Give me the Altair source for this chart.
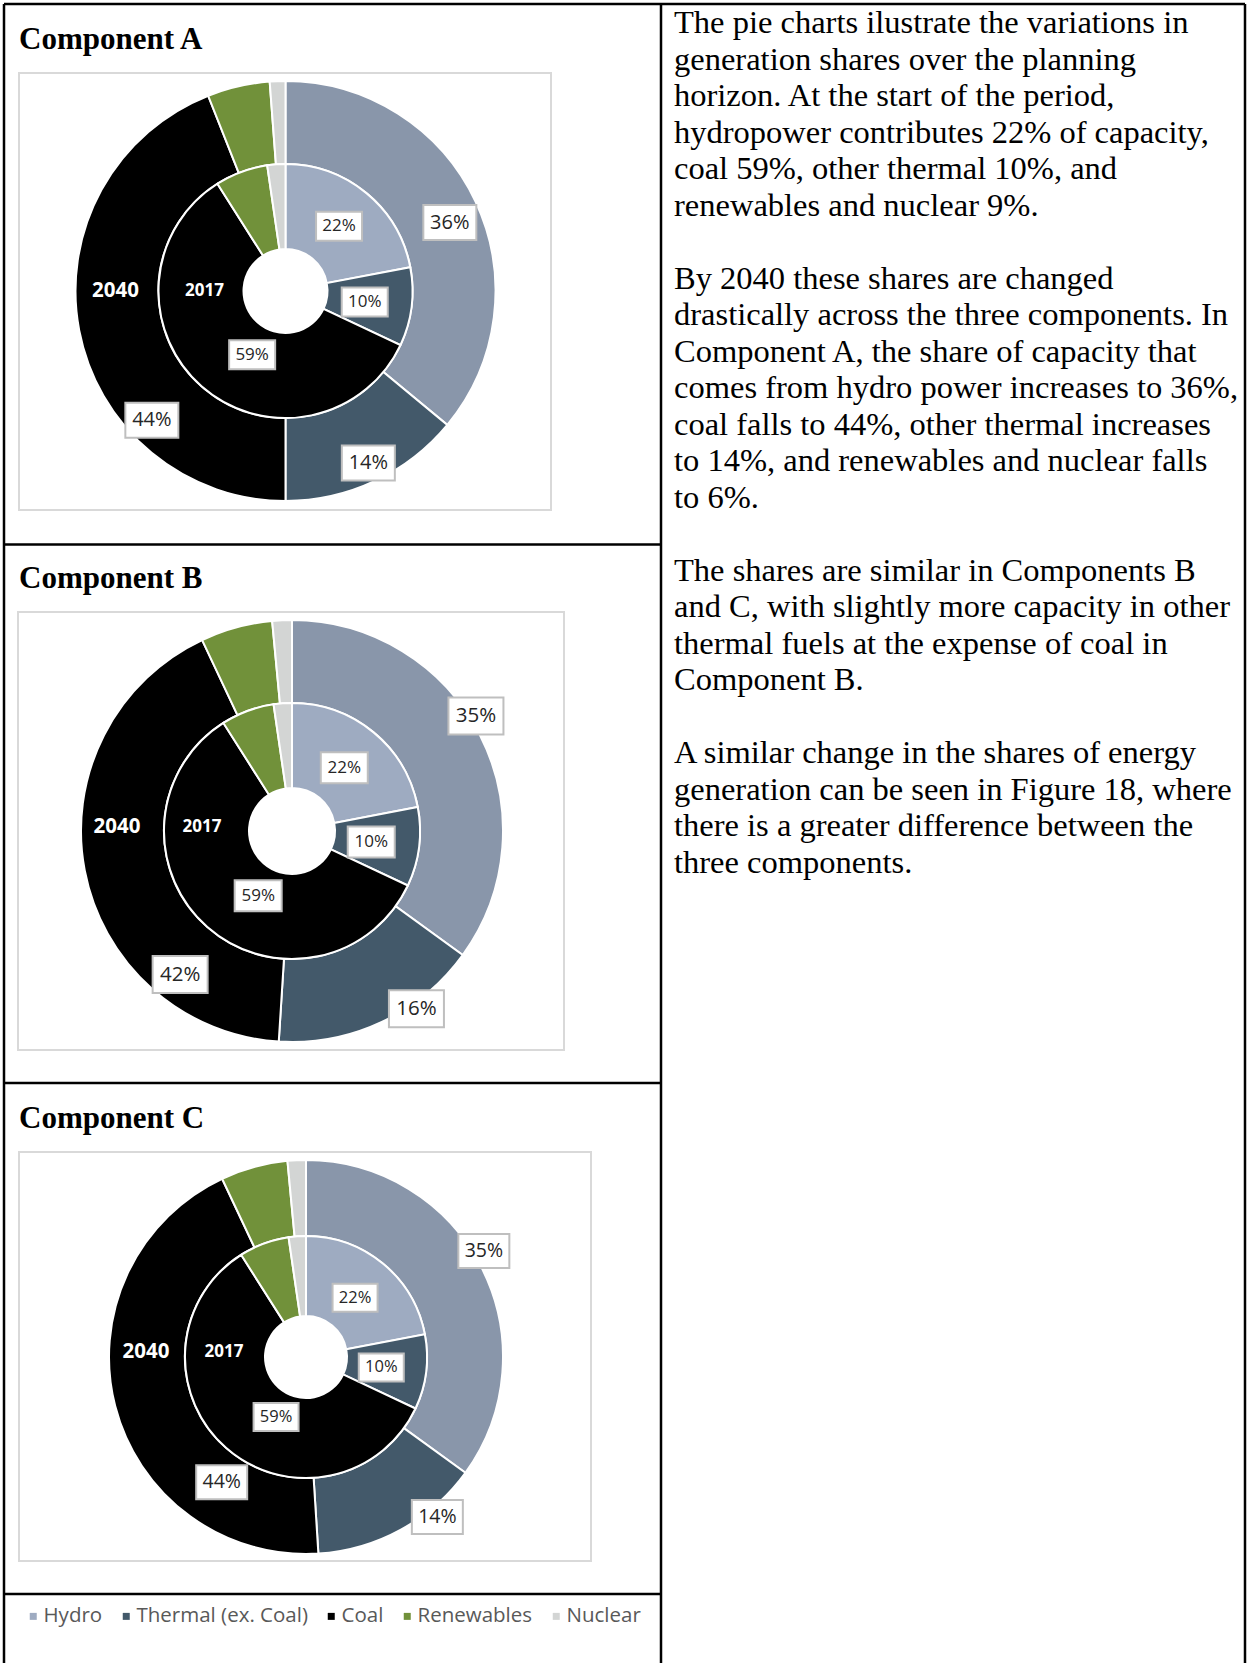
import math
import altair as alt
import pandas as pd

W, H = 1247, 1663

# ---------------- data ----------------
CATEGORIES = ["Hydro", "Thermal (ex. Coal)", "Coal", "Renewables", "Nuclear"]
YEARS = ["2017", "2040"]
SHARE_2017 = [22, 10, 59, 6.7, 2.3]
SHARE_2040_A = [36, 14, 44, 4.8, 1.2]
SHARE_2040_B = [35, 16, 42, 5.5, 1.5]
SHARE_2040_C = [35, 14, 44, 5.5, 1.5]
LABELLED = ["Hydro", "Thermal (ex. Coal)", "Coal"]
PANEL_TITLES = ["Component A", "Component B", "Component C"]
SHARES_2040 = [SHARE_2040_A, SHARE_2040_B, SHARE_2040_C]

PARAGRAPH_1 = [
    "The pie charts ilustrate the variations in",
    "generation shares over the planning",
    "horizon. At the start of the period,",
    "hydropower contributes 22% of capacity,",
    "coal 59%, other thermal 10%, and",
    "renewables and nuclear 9%.",
]
PARAGRAPH_2 = [
    "By 2040 these shares are changed",
    "drastically across the three components. In",
    "Component A, the share of capacity that",
    "comes from hydro power increases to 36%,",
    "coal falls to 44%, other thermal increases",
    "to 14%, and renewables and nuclear falls",
    "to 6%.",
]
PARAGRAPH_3 = [
    "The shares are similar in Components B",
    "and C, with slightly more capacity in other",
    "thermal fuels at the expense of coal in",
    "Component B.",
]
PARAGRAPH_4 = [
    "A similar change in the shares of energy",
    "generation can be seen in Figure 18, where",
    "there is a greater difference between the",
    "three components.",
]
PARAGRAPHS = [PARAGRAPH_1, PARAGRAPH_2, PARAGRAPH_3, PARAGRAPH_4]

# ---------------- styles ----------------
COLORS_2017 = ["#9eabc1", "#43596a", "#000000", "#71913a", "#d3d5d4"]
COLORS_2040 = ["#8996aa", "#43596a", "#000000", "#71913a", "#d3d5d4"]
LINE_H = 36.5

LAYOUT = [
    dict(title_y=49, box=(19, 73, 551, 510), cx=285.5, cy=291, r_out=210, r_mid=127, r_hole=42,
         frac_in=(0.5, 0.52, 0.435), rad_in=(84, 80, 72),
         frac_out=(0.52, 0.49, 0.29), rad_out=(178, 191, 186),
         year_r=(81, 170), year_dy=0, fs_out=20, fs_in=17, box_out=(53, 35), box_in=(46, 29)),
    dict(title_y=588, box=(18, 612, 564, 1050), cx=292, cy=831, r_out=211, r_mid=128, r_hole=43,
         frac_in=(0.5, 0.52, 0.435), rad_in=(82, 80, 73),
         frac_out=(0.46, 0.33, 0.227), rad_out=(217, 217, 182),
         year_r=(90, 175), year_dy=-4, fs_out=20.5, fs_in=17, box_out=(55, 37), box_in=(47, 31)),
    dict(title_y=1128, box=(19, 1152, 591, 1561), cx=306, cy=1357, r_out=197, r_mid=121, r_hole=41,
         frac_in=(0.5, 0.52, 0.43), rad_in=(77, 76, 67),
         frac_out=(0.47, 0.29, 0.237), rad_out=(207, 207, 151),
         year_r=(82, 160), year_dy=-5, fs_out=19.5, fs_in=16.5, box_out=(51, 34), box_in=(45, 28)),
]

XS = alt.Scale(domain=[0, W], range=[0, W], nice=False, zero=False)
YS = alt.Scale(domain=[0, H], range=[0, H], nice=False, zero=False)
ONE = pd.DataFrame({"k": [0]})


def ring_df(values):
    return pd.DataFrame({"cat": CATEGORIES, "value": values, "idx": list(range(len(values)))})


def label_df(values, fracs, radii):
    rows = []
    start = 0.0
    for c, v in zip(CATEGORIES, values):
        if c in LABELLED:
            j = LABELLED.index(c)
            rows.append(dict(cat=c, value=v, start=start, frac=fracs[j], r=radii[j],
                             label=f"{round(v)}%"))
        start += v
    return pd.DataFrame(rows)


def rule(x1, y1, x2, y2, color="black", width=2.5):
    return alt.Chart(ONE).mark_rule(color=color, strokeWidth=width).encode(
        x=alt.value(x1), x2=alt.value(x2), y=alt.value(y1), y2=alt.value(y2))


layers = []

# table borders
layers += [
    rule(4, 4, 1245, 4),
    rule(4, 4, 4, H),
    rule(1245, 4, 1245, H),
    rule(661, 4, 661, H),
    rule(4, 544.5, 661, 544.5),
    rule(4, 1083, 661, 1083),
    rule(4, 1594, 661, 1594),
]

for p, (title, share40, L) in enumerate(zip(PANEL_TITLES, SHARES_2040, LAYOUT)):
    x0, y0, x1, y1 = L["box"]
    cx, cy = L["cx"], L["cy"]
    # chart area box
    layers.append(alt.Chart(ONE).mark_rect(fill="white", stroke="#d9d9d9", strokeWidth=2).encode(
        x=alt.value(x0), x2=alt.value(x1), y=alt.value(y0), y2=alt.value(y1)))
    # panel title
    layers.append(alt.Chart(ONE).mark_text(
        text=title, font="Liberation Serif", fontWeight="bold", fontSize=31,
        align="left", baseline="alphabetic", color="black").encode(
        x=alt.value(19), y=alt.value(L["title_y"])))

    # rings
    for ring, vals, colors, r_in, r_outer in [
        ("2040", share40, COLORS_2040, L["r_mid"], L["r_out"]),
        ("2017", SHARE_2017, COLORS_2017, L["r_hole"], L["r_mid"]),
    ]:
        if p == 0 and ring == "2017":
            legend = alt.Legend(
                orient="none", legendX=23, legendY=1606, direction="horizontal", columns=5,
                title=None, symbolType="square", symbolSize=49, symbolStrokeWidth=0,
                labelFont="Open Sans", labelFontSize=20.5, labelColor="#595959",
                labelOffset=0, columnPadding=13, padding=0, labelLimit=400)
        else:
            legend = None
        layers.append(alt.Chart(ring_df(vals)).mark_arc(
            innerRadius=r_in, outerRadius=r_outer, stroke="white", strokeWidth=2).encode(
            theta=alt.Theta("value:Q", stack=True),
            order=alt.Order("idx:Q", sort="ascending"),
            color=alt.Color("cat:N", scale=alt.Scale(domain=CATEGORIES, range=colors),
                            sort=CATEGORIES, legend=legend),
            x=alt.value(cx), y=alt.value(cy)))

    # value labels
    for vals, fracs, radii, fs, (bw, bh) in [
        (share40, L["frac_out"], L["rad_out"], L["fs_out"], L["box_out"]),
        (SHARE_2017, L["frac_in"], L["rad_in"], L["fs_in"], L["box_in"]),
    ]:
        base = alt.Chart(label_df(vals, fracs, radii)).transform_calculate(
            ang="2*PI*(datum.start + datum.frac*datum.value)/100"
        ).transform_calculate(
            px=f"{cx} + datum.r*sin(datum.ang)",
            py=f"{cy} - datum.r*cos(datum.ang)",
        ).transform_calculate(
            bx1=f"datum.px - {bw / 2}", bx2=f"datum.px + {bw / 2}",
            by1=f"datum.py - {bh / 2}", by2=f"datum.py + {bh / 2}",
        )
        layers.append(base.mark_rect(fill="white", stroke="#bfbfbf", strokeWidth=2).encode(
            x=alt.X("bx1:Q", scale=XS, axis=None), x2="bx2:Q",
            y=alt.Y("by1:Q", scale=YS, axis=None), y2="by2:Q"))
        layers.append(base.mark_text(font="Open Sans", fontSize=fs, color="#262626",
                                     align="center", baseline="middle").encode(
            x=alt.X("px:Q", scale=XS, axis=None),
            y=alt.Y("py:Q", scale=YS, axis=None),
            text="label:N"))

    # ring (year) labels
    for yr, r, fs in [(YEARS[0], L["year_r"][0], 17), (YEARS[1], L["year_r"][1], 20.5)]:
        layers.append(alt.Chart(pd.DataFrame({"year": [yr]})).mark_text(
            font="Open Sans", fontWeight="bold", fontSize=fs, color="white",
            align="center", baseline="middle", radius=r, theta=3 * math.pi / 2,
            dy=L["year_dy"]).encode(
            x=alt.value(cx), y=alt.value(cy), text="year:N"))

# right column text: paragraphs separated by one blank line
line_no = 0
for para in PARAGRAPHS:
    layers.append(alt.Chart(ONE).mark_text(
        text=para, font="Liberation Serif", fontSize=32.5, lineHeight=LINE_H,
        align="left", baseline="alphabetic", color="black").encode(
        x=alt.value(674), y=alt.value(33 + line_no * LINE_H)))
    line_no += len(para) + 1

chart = alt.layer(*layers).resolve_scale(
    color="independent", theta="independent"
).properties(
    width=W, height=H, padding=0, autosize="none", background="white"
).configure_view(stroke=None)

chart.save("out.html", embed_options={"renderer": "svg", "actions": False})
